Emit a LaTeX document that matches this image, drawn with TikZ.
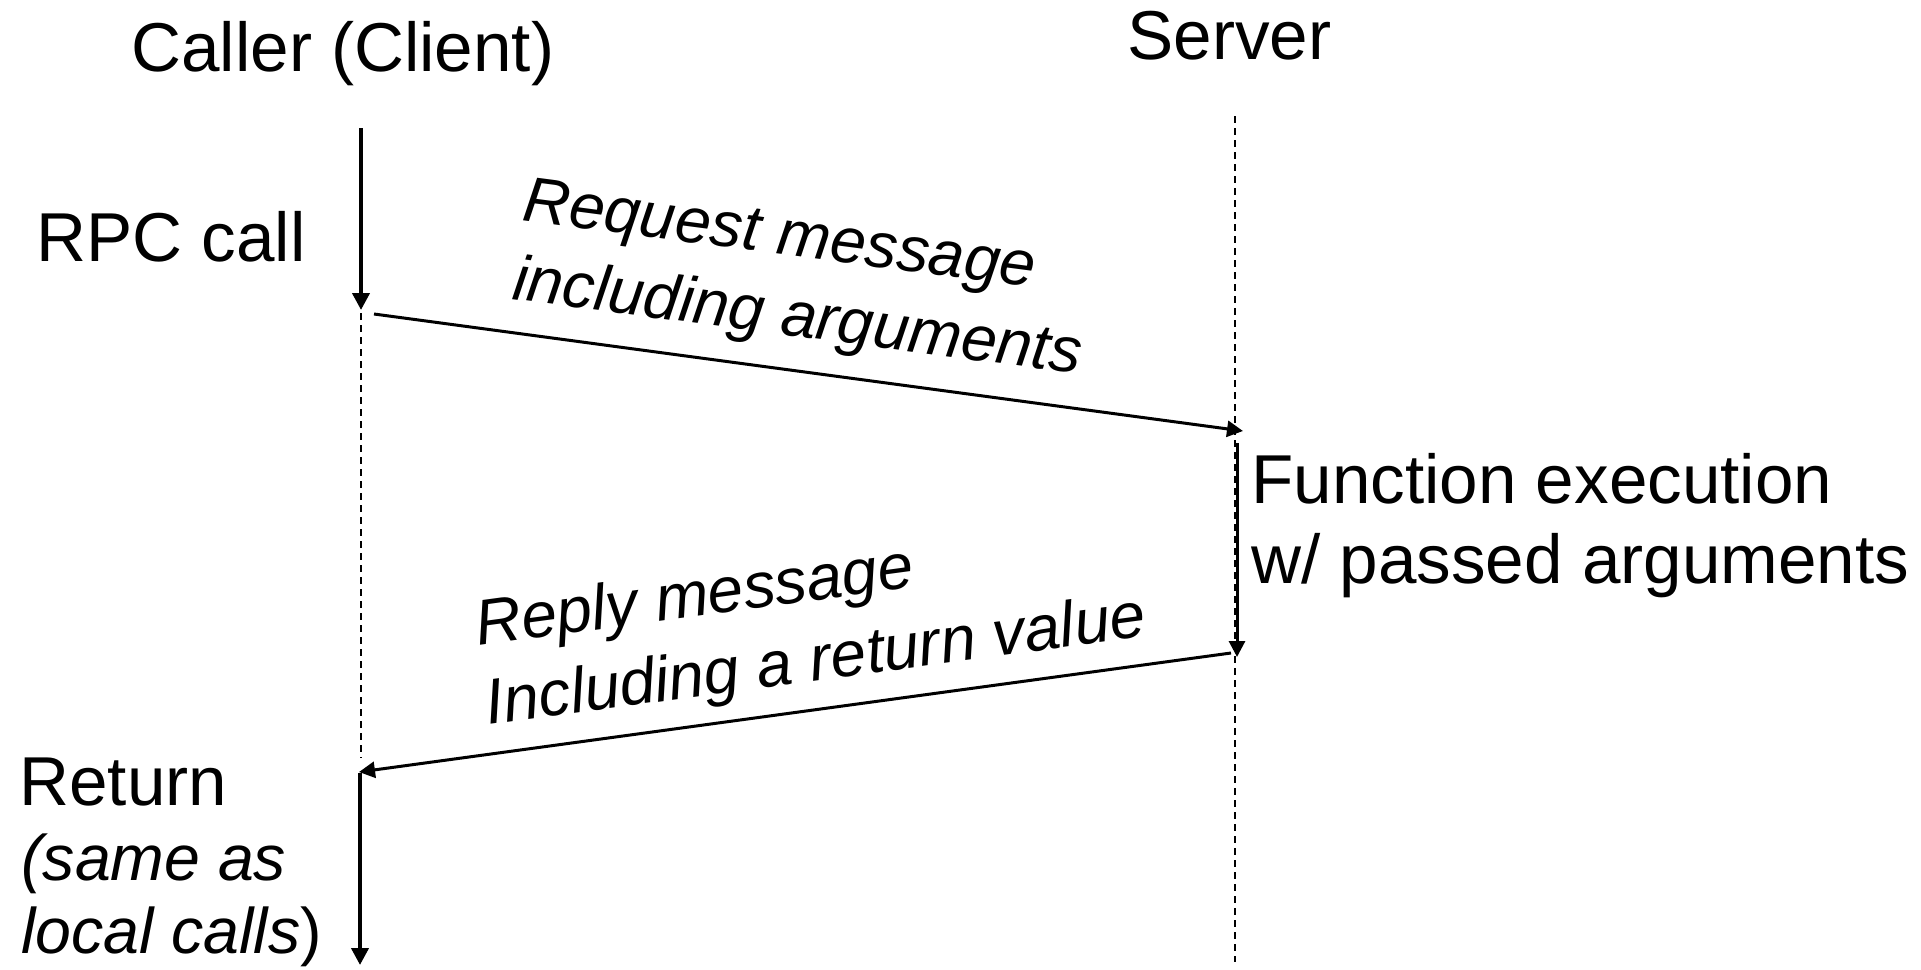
\documentclass[tikz,border=0pt]{standalone}
\usepackage{fontspec}
\setmainfont{Liberation Sans}
\usetikzlibrary{arrows.meta}
\begin{document}
\begin{tikzpicture}[x=0.5pt,y=-0.5pt,
  lbl/.style={inner sep=0pt, anchor=base west, font=\fontsize{34.6pt}{40pt}\selectfont},
  sublbl/.style={inner sep=0pt, anchor=base west, font=\fontsize{32.2pt}{38pt}\selectfont},
  msg/.style={inner sep=0pt, anchor=base west, font=\fontsize{32pt}{38pt}\selectfont\itshape},
  life/.style={line width=1.1pt, dash pattern=on 3.5pt off 2.5pt},
  flow/.style={line width=1.5pt, -{Triangle[length=8pt,width=8pt]}},
  thickflow/.style={line width=2pt, -{Triangle[length=8.5pt,width=8.5pt]}}]
\useasboundingbox (0,0) rectangle (1921,969);
% coordinates
\coordinate (ctop) at (361,128);
\coordinate (creq) at (361,310);
\coordinate (cdash) at (361,313);
\coordinate (cdashend) at (361,758);
\coordinate (cret) at (360,773);
\coordinate (cbot) at (360,965);
\coordinate (stop) at (1235,116);
\coordinate (sbot) at (1235,962);
\coordinate (reqs) at (374,314);
\coordinate (reqe) at (1243,431);
\coordinate (fs) at (1237,443);
\coordinate (fe) at (1237,657);
\coordinate (reps) at (1231,653);
\coordinate (repe) at (359,772);
% lifelines
\draw[life] (cdash) -- (cdashend);
\draw[life] (stop) -- (sbot);
% arrows
\draw[thickflow] (ctop) -- (creq);
\draw[flow] (reqs) -- (reqe);
\draw[flow] (fs) -- (fe);
\draw[flow] (reps) -- (repe);
\draw[thickflow] (cret) -- (cbot);
% labels
\node[lbl] (caller) at (131,71) {Caller (Client)};
\node[lbl] (server) at (1127,59) {Server};
\node[lbl] (rpc) at (36,261) {RPC call};
\node[lbl] (func1) at (1251,503) {Function execution};
\node[lbl] (func2) at (1251,583) {w/ passed arguments};
\node[lbl] (ret1) at (19,805) {Return};
\node[sublbl] (ret2) at (21,880) {\itshape (same as};
\node[sublbl] (ret3) at (21,953) {\itshape local calls\/\upshape)};
\node[msg, rotate=-7.5] (req1) at (521,220) {Request message};
\node[msg, rotate=-7.5] (req2) at (511,299) {including arguments};
\node[msg, rotate=7.7] (rep1) at (478,646) {Reply message};
\node[msg, rotate=7.7] (rep2) at (488,725) {Including a return value};
\end{tikzpicture}
\end{document}
